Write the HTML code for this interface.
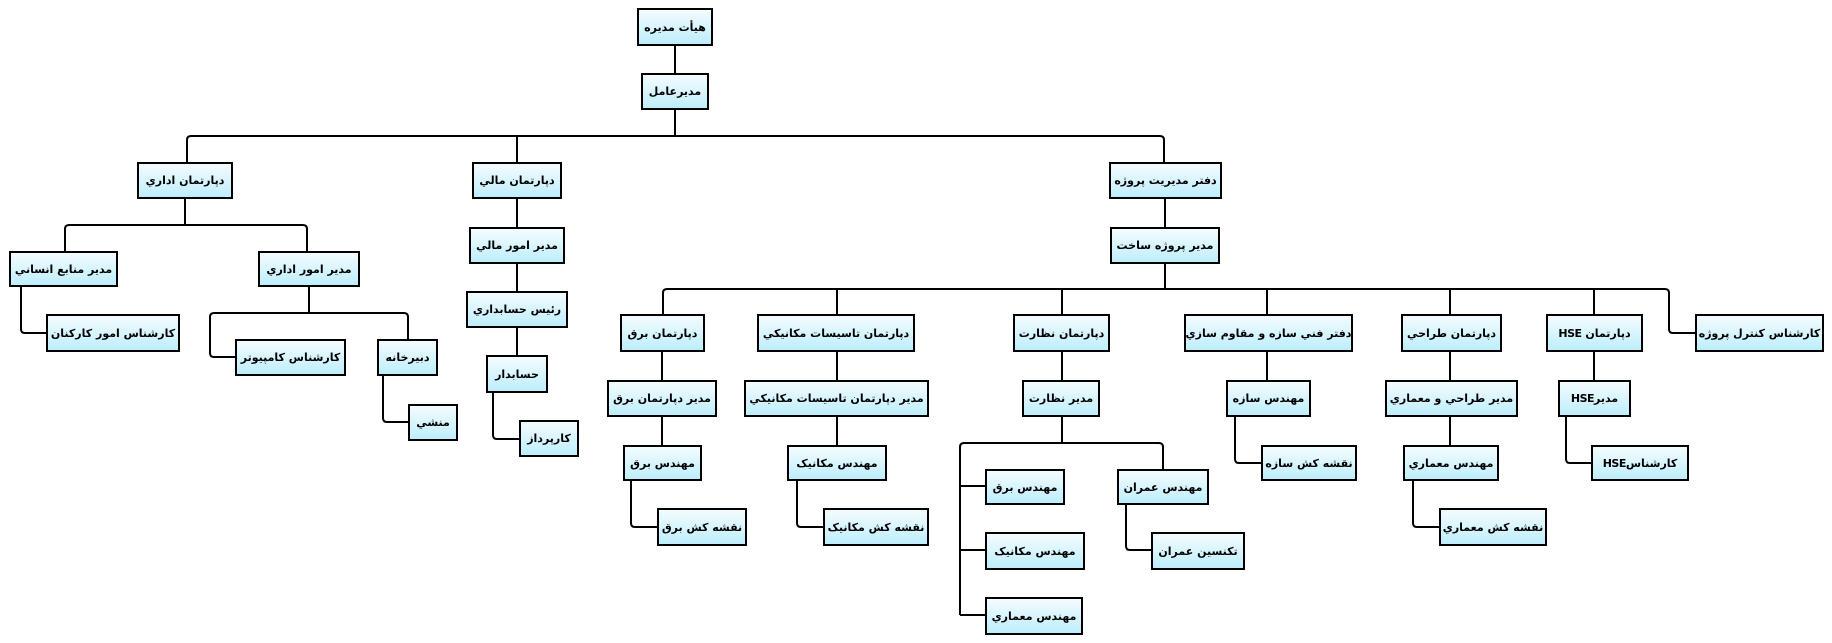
<!DOCTYPE html>
<html><head><meta charset="utf-8"><style>
body{margin:0;width:1832px;height:643px;background:#fff;position:relative;overflow:hidden;font-family:"DejaVu Sans",sans-serif}
svg{position:absolute;left:0;top:0}
.b{position:absolute;box-sizing:border-box;border:2px solid #000;background:linear-gradient(#f4fcff,#bdeefc);display:flex;align-items:center;justify-content:center;font-weight:bold;font-size:11px;white-space:nowrap;direction:rtl;color:#000;letter-spacing:-0.5px;padding:0 2px}
</style></head><body>
<svg width="1832" height="643" fill="none" stroke="#000" stroke-width="2">
<path d="M675 46V73M675 110V136M187 162V140Q187 136 191 136H1160Q1164 136 1164 140V162M517 136V162"/>
<path d="M185 199V225M65 251V229Q65 225 69 225H303Q307 225 307 229V251M21 287V329Q21 333 25 333H46"/>
<path d="M309 287V313M235 357H214Q210 357 210 353V317Q210 313 214 313H404Q408 313 408 317V339M383 376V418Q383 422 387 422H408"/>
<path d="M517 199V227M517 264V291M517 328V355M493 393V435Q493 439 497 439H519"/>
<path d="M1165 199V227M1165 264V289M663 314V293Q663 289 667 289H1665Q1669 289 1669 293V329Q1669 333 1673 333H1695M837 289V314M1062 289V314M1267 289V314M1450 289V314M1594 289V314"/>
<path d="M662 352V380M662 417V445M631 481V523Q631 527 635 527H657"/>
<path d="M837 352V380M837 417V445M797 481V523Q797 527 801 527H823"/>
<path d="M1062 352V380M1062 417V443M960 615V447Q960 443 964 443H1159Q1163 443 1163 447V469M960 486H985M960 550H985M960 615H985M1126 505V546Q1126 550 1130 550H1151"/>
<path d="M1267 352V380M1235 417V459Q1235 463 1239 463H1261"/>
<path d="M1450 352V380M1450 417V445M1413 481V523Q1413 527 1417 527H1439"/>
<path d="M1594 352V380M1566 417V459Q1566 463 1570 463H1591"/>
</svg>
<div class="b" style="left:637px;top:8px;width:76px;height:38px">هیأت مدیره</div>
<div class="b" style="left:641px;top:73px;width:68px;height:37px">مدیرعامل</div>
<div class="b" style="left:137px;top:162px;width:96px;height:37px">دپارتمان اداري</div>
<div class="b" style="left:472px;top:162px;width:90px;height:37px">دپارتمان مالي</div>
<div class="b" style="left:1109px;top:162px;width:113px;height:37px">دفتر مدیریت پروژه</div>
<div class="b" style="left:9px;top:251px;width:109px;height:36px">مدیر منابع انساني</div>
<div class="b" style="left:258px;top:251px;width:102px;height:36px">مدیر امور اداري</div>
<div class="b" style="left:469px;top:227px;width:96px;height:37px">مدیر امور مالي</div>
<div class="b" style="left:1110px;top:227px;width:110px;height:37px">مدیر پروژه ساخت</div>
<div class="b" style="left:466px;top:291px;width:102px;height:37px">رئیس حسابداري</div>
<div class="b" style="left:46px;top:314px;width:134px;height:38px">کارشناس امور کارکنان</div>
<div class="b" style="left:235px;top:339px;width:111px;height:37px">کارشناس کامپیوتر</div>
<div class="b" style="left:377px;top:339px;width:61px;height:37px">دبیرخانه</div>
<div class="b" style="left:408px;top:404px;width:50px;height:37px">منشي</div>
<div class="b" style="left:486px;top:355px;width:62px;height:38px">حسابدار</div>
<div class="b" style="left:519px;top:420px;width:60px;height:37px">کارپرداز</div>
<div class="b" style="left:620px;top:314px;width:85px;height:38px">دپارتمان برق</div>
<div class="b" style="left:757px;top:314px;width:158px;height:38px">دپارتمان تاسیسات مکانیکي</div>
<div class="b" style="left:1013px;top:314px;width:97px;height:38px">دپارتمان نظارت</div>
<div class="b" style="left:1184px;top:314px;width:169px;height:38px">دفتر فني سازه و مقاوم سازي</div>
<div class="b" style="left:1401px;top:314px;width:101px;height:38px">دپارتمان طراحي</div>
<div class="b" style="left:1546px;top:314px;width:97px;height:38px">دپارتمان HSE</div>
<div class="b" style="left:1695px;top:314px;width:129px;height:38px">کارشناس کنترل پروژه</div>
<div class="b" style="left:607px;top:380px;width:110px;height:37px">مدیر دپارتمان برق</div>
<div class="b" style="left:744px;top:380px;width:185px;height:37px">مدیر دپارتمان تاسیسات مکانیکي</div>
<div class="b" style="left:1022px;top:380px;width:78px;height:37px">مدیر نظارت</div>
<div class="b" style="left:1226px;top:380px;width:85px;height:37px">مهندس سازه</div>
<div class="b" style="left:1385px;top:380px;width:133px;height:37px">مدیر طراحي و معماري</div>
<div class="b" style="left:1558px;top:380px;width:73px;height:37px">مدیرHSE</div>
<div class="b" style="left:623px;top:445px;width:79px;height:36px">مهندس برق</div>
<div class="b" style="left:787px;top:445px;width:100px;height:36px">مهندس مکانیک</div>
<div class="b" style="left:1261px;top:445px;width:96px;height:36px">نقشه کش سازه</div>
<div class="b" style="left:1403px;top:445px;width:96px;height:36px">مهندس معماري</div>
<div class="b" style="left:1591px;top:445px;width:98px;height:36px">کارشناسHSE</div>
<div class="b" style="left:657px;top:508px;width:90px;height:38px">نقشه کش برق</div>
<div class="b" style="left:823px;top:508px;width:106px;height:38px">نقشه کش مکانیک</div>
<div class="b" style="left:1439px;top:508px;width:108px;height:38px">نقشه کش معماري</div>
<div class="b" style="left:985px;top:469px;width:80px;height:36px">مهندس برق</div>
<div class="b" style="left:1117px;top:469px;width:92px;height:36px">مهندس عمران</div>
<div class="b" style="left:985px;top:532px;width:100px;height:38px">مهندس مکانیک</div>
<div class="b" style="left:1151px;top:532px;width:94px;height:38px">تکنسین عمران</div>
<div class="b" style="left:985px;top:597px;width:98px;height:38px">مهندس معماري</div>
</body></html>
